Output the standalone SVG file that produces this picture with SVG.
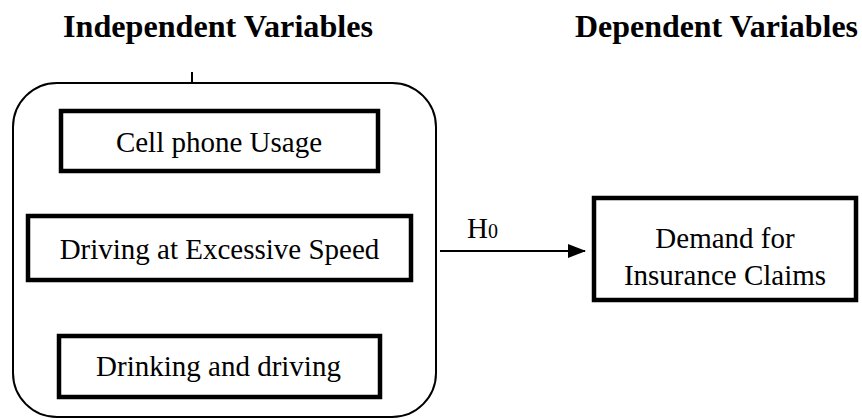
<svg xmlns="http://www.w3.org/2000/svg" width="862" height="419" viewBox="0 0 862 419">
<style>
text{font-family:"Liberation Serif","Times New Roman",serif;fill:#000}
.h{font-size:31px;font-weight:bold}
.t{font-size:29px;text-anchor:middle}
.box{fill:#fff;stroke:#000;stroke-width:4.5}
.line{fill:none;stroke:#000;stroke-width:2}
</style>
<defs>
<marker id="arr" markerWidth="18" markerHeight="14" refX="17" refY="7" orient="auto" markerUnits="userSpaceOnUse">
<path d="M0,0 L18,7 L0,14 Z" fill="#000"/>
</marker>
</defs>
<text class="h" x="63" y="37" textLength="310" lengthAdjust="spacingAndGlyphs">Independent Variables</text>
<text class="h" x="575" y="37" textLength="283" lengthAdjust="spacingAndGlyphs">Dependent Variables</text>
<g id="independent-group">
<line class="line" x1="192" y1="72" x2="192" y2="83"/>
<rect class="line" x="13" y="83" width="423" height="334" rx="44" ry="44"/>
</g>
<g id="cell-phone">
<rect class="box" x="61" y="111" width="317" height="60"/>
<text class="t" x="219" y="152">Cell phone Usage</text>
</g>
<g id="speed">
<rect class="box" x="28" y="216" width="383" height="64"/>
<text class="t" x="219.5" y="259">Driving at Excessive Speed</text>
</g>
<g id="drinking">
<rect class="box" x="59" y="336" width="321" height="61"/>
<text class="t" x="218.5" y="376">Drinking and driving</text>
</g>
<g id="demand">
<rect class="box" x="594" y="198" width="262" height="102"/>
<text class="t" x="725" y="248">Demand for</text>
<text class="t" x="725" y="285">Insurance Claims</text>
</g>
<g id="connectors">
<line class="line" x1="440" y1="251" x2="585" y2="251" marker-end="url(#arr)"/>
<text x="467" y="238" style="font-size:29px">H<tspan style="font-size:20px">0</tspan></text>
</g>
</svg>
